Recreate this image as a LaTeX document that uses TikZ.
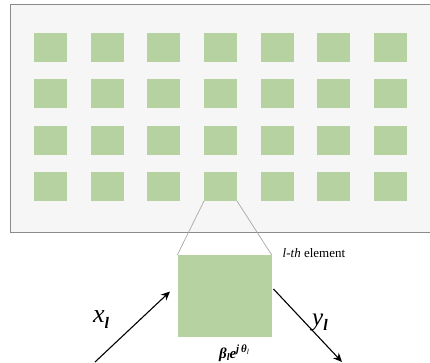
\documentclass[tikz,border=0pt]{standalone}
\usepackage{fontspec}
\setmainfont{Liberation Serif}
\usetikzlibrary{arrows.meta}
\definecolor{cellgreen}{HTML}{B5D2A0}
\definecolor{panelfill}{HTML}{F6F6F6}
\definecolor{panelline}{HTML}{8A8A8A}
\definecolor{linkgray}{HTML}{A8A8A8}
\tikzset{
  cell/.style={fill=cellgreen, draw=none},
  ray/.style={line width=1.1pt, -{Stealth[length=9pt,width=8pt]}},
  link/.style={draw=linkgray, line width=0.7pt},
}
\begin{document}
\begin{tikzpicture}[x=1pt,y=-1pt]
\useasboundingbox (0,0) rectangle (430,363);
\begin{scope}
\clip (0,0) rectangle (430,363);
\draw[panelline, fill=panelfill, line width=1pt] (10,5) rectangle (440,232);
\end{scope}
\foreach \c/\x in {1/34,2/90.7,3/147.3,4/204,5/260.7,6/317.3,7/374}{
  \foreach \r/\y in {1/33,2/79.3,3/125.7,4/172}{
    \path[cell] (\x,\y) rectangle ++(33,29);
    \coordinate (c\c r\r nw) at (\x,\y+29);
    \coordinate (c\c r\r ne) at (\x+33,\y+29);
  }
}
\node[cell, minimum width=94pt, minimum height=82pt, inner sep=0pt, anchor=north west] (big) at (177.3,255) {};
\draw[link] (c4r4nw) -- (big.north west);
\draw[link] (c4r4ne) -- (big.north east);
\node[anchor=west, inner sep=0pt] (lab) at (282.5,253) {\fontsize{13}{15}\selectfont\textit{l-th} element};
\coordinate (xin) at (95,362);
\coordinate (xend) at (170,291.5);
\draw[ray] (xin) -- (xend);
\coordinate (ystart) at (273.5,289);
\coordinate (yout) at (342,362);
\draw[ray] (ystart) -- (yout);
\node[inner sep=0pt] (xl) at (101,320) {\fontsize{26}{26}\selectfont\textit{x}\raisebox{-6pt}{\fontsize{16}{16}\selectfont\textbf{\textit{l}}}};
\node[inner sep=0pt] (yl) at (320,322) {\fontsize{25}{25}\selectfont\textit{y}\raisebox{-5pt}{\fontsize{16}{16}\selectfont\textbf{\textit{l}}}};
\node[inner sep=0pt, anchor=south] (coef) at (234,362) {\fontsize{15}{15}\selectfont\textbf{\textit{β}}\raisebox{-2pt}{\fontsize{10}{10}\selectfont\textbf{\textit{l}}}\textbf{\textit{e}}\raisebox{6.5pt}{\fontsize{11}{11}\selectfont\textbf{\textit{j}}\,\textbf{\textit{θ}}\raisebox{-2pt}{\fontsize{7.5}{7.5}\selectfont\textit{l}}}};
\end{tikzpicture}
\end{document}
